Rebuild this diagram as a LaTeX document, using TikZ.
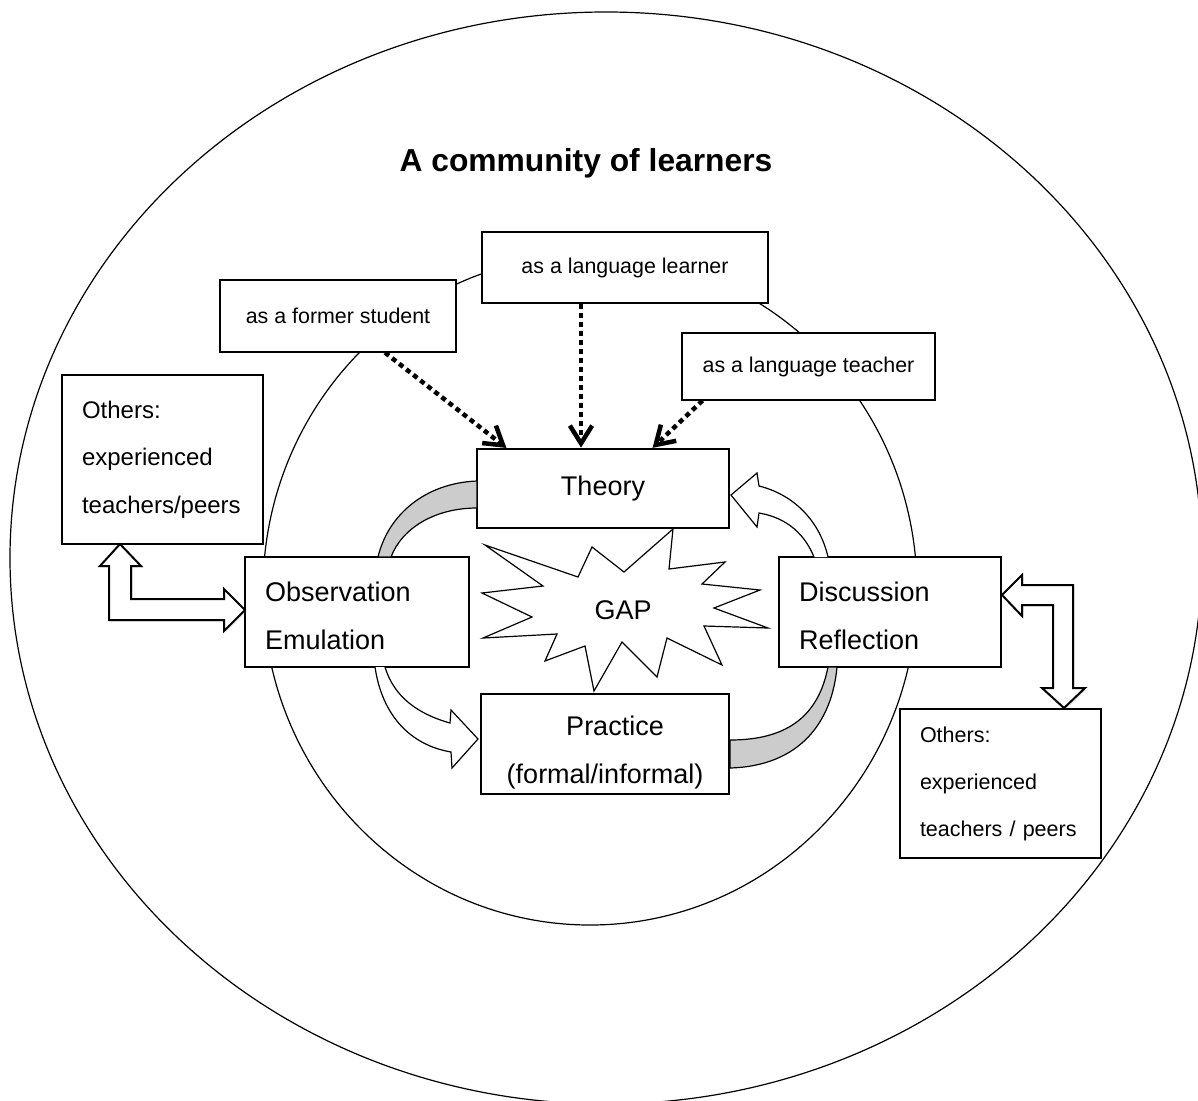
\documentclass[tikz,border=0pt]{standalone}
\usepackage{fontspec}
\setmainfont{Liberation Sans}
\usetikzlibrary{shadows,calc}

\tikzset{
  box/.style={draw, line width=1.2pt, fill=white, inner sep=0pt},
  bigtxt/.style={font=\fontsize{27}{48}\selectfont},
  smalltxt/.style={font=\fontsize{21.4}{47}\selectfont},
  lefttxt/.style={align=left, inner xsep=20pt, text width=#1},
  dotline/.style={line width=4.5pt, dash pattern=on 5pt off 4pt},
  chevron/.style={line width=4.5pt},
  band/.style={draw, line width=1.2pt, fill=gray!40},
  hollow/.style={draw, line width=1.2pt, fill=white},
  bent/.style={draw, line width=2pt, fill=white,
    drop shadow={opacity=0.2, shadow xshift=1.5pt, shadow yshift=-1.5pt}},
}

\begin{document}
\begin{tikzpicture}[x=1pt, y=-1pt]
  \path[use as bounding box] (0,0) rectangle (1198,1100);
  \clip (0,0) rectangle (1198,1100);

  % community and inner circle
  \draw[line width=1.2pt] (606,558) ellipse [x radius=596pt, y radius=546pt];
  \draw[line width=1.2pt] (590,590) ellipse [x radius=327pt, y radius=335pt];

  \node[font=\bfseries\fontsize{31.8}{36}\selectfont] (title) at (586,163) {A community of learners};

  % sources of theory
  \node[box, smalltxt, minimum width=286pt, minimum height=71pt] (learner) at (625,267.5) {as a language learner};
  \node[box, smalltxt, minimum width=236pt, minimum height=72pt] (student) at (338,316) {as a former student};
  \node[box, smalltxt, minimum width=253pt, minimum height=67pt] (teacher) at (808.5,366.5) {as a language teacher};

  % cycle
  \node[box, bigtxt, minimum width=252pt, minimum height=79pt] (theory) at (603,488.5) {Theory};
  \node[box, bigtxt, lefttxt=184pt, minimum height=110pt] (observe) at (357,612) {\rule{0pt}{27pt}Observation\\Emulation};
  \node[box, bigtxt, lefttxt=182pt, minimum height=110pt] (discuss) at (890,612) {\rule{0pt}{27pt}Discussion\\Reflection};
  \node[box, bigtxt, align=center, minimum width=248pt, minimum height=100pt] (practice) at (605,744) {\rule{0pt}{36pt}\hspace*{20pt}Practice\\(formal/informal)};

  % others
  \node[box, lefttxt=161pt, minimum height=169pt, font=\fontsize{24}{47.5}\selectfont] (othersL) at (162.5,459.5) {Others:\\experienced\\teachers/peers};
  \node[box, lefttxt=161pt, minimum height=149pt, font=\fontsize{21.5}{47}\selectfont] (othersR) at (1000.5,783.5) {Others:\\experienced\\teachers / peers};

  % the gap
  \draw[line width=1.2pt, fill=white] (485,545) -- (578,577) -- (592,547) -- (624,572) -- (673,529)
    -- (669,569) -- (725,562) -- (702,584) -- (760,590) -- (714,608) -- (768,628)
    -- (704,626) -- (722,665) -- (667,638) -- (657,677) -- (622,642) -- (594,691)
    -- (585,646) -- (545,661) -- (557,634) -- (483,638) -- (532,617) -- (482,593)
    -- (543,586) -- cycle;
  \node[bigtxt] (gap) at (623,610) {GAP};

  % dotted arrows into theory
  \coordinate (s1) at ([xshift=47pt]student.south);
  \coordinate (s2) at ([xshift=-44pt]learner.south);
  \coordinate (s3) at ([xshift=-106pt]teacher.south);
  \coordinate (t1) at ([xshift=-96pt]theory.north);
  \coordinate (t2) at ([xshift=-22pt]theory.north);
  \coordinate (t3) at ([xshift=49pt]theory.north);
  \foreach \a/\b in {s1/t1, s2/t2, s3/t3} {
    \coordinate (tip) at ($(\b)!5pt!(\a)$);
    \draw[dotline] (\a) -- (tip);
    \draw[chevron] ($(tip)!21pt!32:(\a)$) -- (tip) -- ($(tip)!21pt!-32:(\a)$);
  }

  % curved arrows between boxes
  \draw[band] (477,481) .. controls (425,483) and (388,515) .. (378,557)
    -- (391,557) .. controls (402,528) and (435,508) .. (477,508) -- cycle;
  \draw[hollow] (814,557) .. controls (805,535) and (788,518) .. (759,513) -- (757,527)
    -- (731,495) -- (757,473) -- (759,486) .. controls (795,495) and (820,522) .. (828,557);
  \draw[hollow] (375,667) .. controls (382,715) and (410,745) .. (451,752) -- (452,768)
    -- (478,739) -- (451,710) -- (450,723) .. controls (418,714) and (394,697) .. (385,667);
  \draw[band] (828,667) .. controls (818,718) and (785,740) .. (730,740)
    -- (730,768) .. controls (800,766) and (832,722) .. (837,667) -- cycle;

  % links to others
  \draw[bent] (120,544) -- (141,566) -- (131,566) -- (131,599) -- (224,599) -- (224,589)
    -- (245,610) -- (224,631) -- (224,620) -- (109,620) -- (109,566) -- (100,566) -- cycle;
  \draw[bent] (1002,595) -- (1022,575) -- (1022,585) -- (1073,585) -- (1073,688) -- (1085,688)
    -- (1064,708) -- (1042,688) -- (1053,688) -- (1053,605) -- (1022,605) -- (1022,616) -- cycle;
\end{tikzpicture}
\end{document}
